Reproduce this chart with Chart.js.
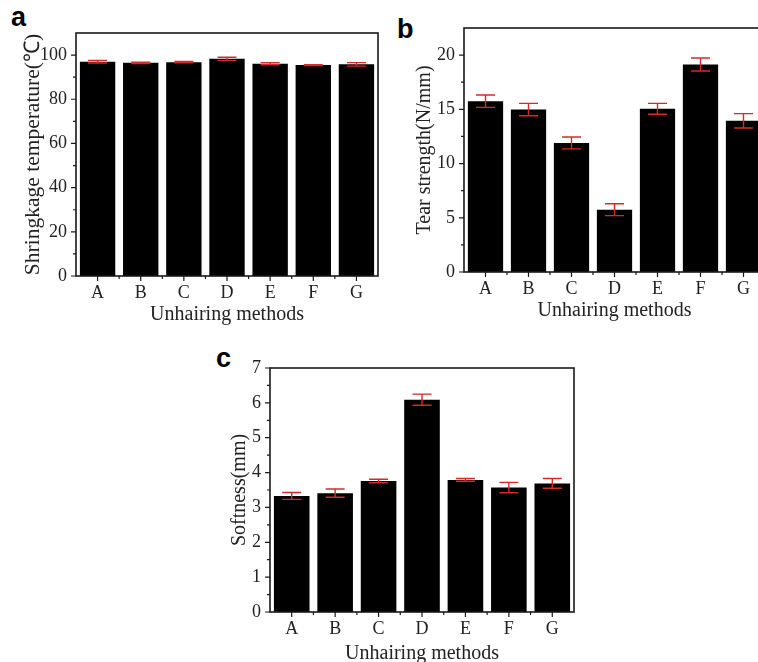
<!DOCTYPE html>
<html>
<head>
<meta charset="utf-8">
<script src="https://cdn.jsdelivr.net/npm/chart.js@4.4.1/dist/chart.umd.min.js"></script>
<style>
  body { margin: 0; width: 758px; height: 662px; overflow: hidden; background: #fff; position: relative; }
  canvas { position: absolute; }
  .tag { position: absolute; font: bold 27px "Liberation Sans", Arial, sans-serif; line-height: 1; color: #000; }
</style>
</head>
<body>
<div class="tag" style="left:11px; top:4px">a</div>
<div class="tag" style="left:397px; top:16px">b</div>
<div class="tag" style="left:216px; top:345px">c</div>
<canvas id="chartA" width="392" height="335" style="left:0; top:0"></canvas>
<canvas id="chartB" width="400" height="335" style="left:380px; top:0"></canvas>
<canvas id="chartC" width="420" height="360" style="left:180px; top:320px"></canvas>
<script>
/* data */
var methods = ['A', 'B', 'C', 'D', 'E', 'F', 'G'];

var shrinkTemp = [97.0, 96.5, 96.8, 98.3, 96.1, 95.5, 95.8];
var shrinkErr = [0.6, 0.3, 0.3, 0.7, 0.5, 0.2, 0.8];

var tearStrength = [15.75, 14.98, 11.9, 5.75, 15.05, 19.14, 13.94];
var tearErr = [0.57, 0.57, 0.55, 0.55, 0.5, 0.6, 0.66];

var softness = [3.33, 3.41, 3.76, 6.09, 3.79, 3.57, 3.69];
var softErr = [0.1, 0.12, 0.05, 0.16, 0.04, 0.15, 0.14];

Chart.defaults.font.family = '"Liberation Serif", "Times New Roman", serif';
Chart.defaults.font.size = 18;
Chart.defaults.color = '#222';

/* error bars, frame and outward ticks */
const decorations = {
  id: 'decorations',
  afterDatasetsDraw(chart, args, opts) {
    const ctx = chart.ctx;
    const area = chart.chartArea;
    const x = chart.scales.x, y = chart.scales.y;
    const vals = chart.data.datasets[0].data;
    ctx.save();

    // error bars
    ctx.strokeStyle = '#d22b2b';
    ctx.lineWidth = 1.4;
    vals.forEach(function (v, i) {
      const px = x.getPixelForValue(i);
      const top = y.getPixelForValue(v + opts.errors[i]);
      const bot = y.getPixelForValue(v - opts.errors[i]);
      ctx.beginPath();
      ctx.moveTo(px, top); ctx.lineTo(px, bot);
      ctx.moveTo(px - 9.5, top); ctx.lineTo(px + 9.5, top);
      ctx.moveTo(px - 9.5, bot); ctx.lineTo(px + 9.5, bot);
      ctx.stroke();
    });

    // frame
    ctx.strokeStyle = '#1a1a1a';
    ctx.lineWidth = 1.6;
    ctx.strokeRect(area.left, area.top, area.right - area.left, area.bottom - area.top);

    // y ticks, major + minor halfway
    ctx.lineWidth = 1.2;
    ctx.beginPath();
    y.ticks.forEach(function (t) {
      const py = y.getPixelForValue(t.value);
      ctx.moveTo(area.left, py); ctx.lineTo(area.left - 5, py);
      const mid = t.value + opts.step / 2;
      if (mid < y.max) {
        const pm = y.getPixelForValue(mid);
        ctx.moveTo(area.left, pm); ctx.lineTo(area.left - 3, pm);
      }
    });
    // x ticks at centers, minor at boundaries
    methods.forEach(function (m, i) {
      const px = x.getPixelForValue(i);
      ctx.moveTo(px, area.bottom); ctx.lineTo(px, area.bottom + 5);
      if (i > 0) {
        const pb = x.getPixelForValue(i - 0.5);
        ctx.moveTo(pb, area.bottom); ctx.lineTo(pb, area.bottom + 3);
      }
    });
    ctx.stroke();
    ctx.restore();
  }
};

function makeChart(id, values, errors, yMax, step, yTitle, box) {
  return new Chart(document.getElementById(id), {
    type: 'bar',
    data: {
      labels: methods,
      datasets: [{
        data: values,
        backgroundColor: '#000',
        borderWidth: 0,
        barPercentage: 0.82,
        categoryPercentage: 1
      }]
    },
    options: {
      responsive: false,
      animation: false,
      layout: { padding: { left: 0, top: box.top, right: box.right, bottom: 0 } },
      plugins: {
        legend: { display: false },
        tooltip: { enabled: false },
        decorations: { errors: errors, step: step }
      },
      scales: {
        x: {
          offset: true,
          grid: { display: false, drawTicks: false },
          border: { display: false },
          ticks: { padding: box.xTickPad, color: '#222' },
          title: { display: true, text: 'Unhairing methods', font: { size: 20 }, color: '#222',
                   padding: { top: 0, bottom: box.xTitlePad } },
          afterFit: function (s) { s.height = box.xHeight; }
        },
        y: {
          min: 0,
          max: yMax,
          grid: { display: false, drawTicks: false },
          border: { display: false },
          ticks: { stepSize: step, padding: 9, color: '#222' },
          afterBuildTicks: function (s) {
            s.ticks = s.ticks.filter(function (t) {
              return Math.abs(t.value / step - Math.round(t.value / step)) < 1e-6;
            });
          },
          title: { display: true, text: yTitle, font: { size: box.yTitleSize }, color: '#222',
                   padding: { top: box.yTitlePad, bottom: 0 } },
          afterFit: function (s) { s.width = box.yWidth; }
        }
      }
    },
    plugins: [decorations]
  });
}

makeChart('chartA', shrinkTemp, shrinkErr, 110, 20, 'Shringkage temperature(\u2103)',
  { top: 33, right: 14, yWidth: 76, xHeight: 59, xTickPad: 6, xTitlePad: 8, yTitlePad: 20, yTitleSize: 21.5 });

makeChart('chartB', tearStrength, tearErr, 22.5, 5, 'Tear strength(N/mm)',
  { top: 28, right: 15, yWidth: 84, xHeight: 63, xTickPad: 6, xTitlePad: 12, yTitlePad: 33, yTitleSize: 20 });

makeChart('chartC', softness, softErr, 7, 1, 'Softness(mm)',
  { top: 48, right: 26, yWidth: 90, xHeight: 68, xTickPad: 6, xTitlePad: 14, yTitlePad: 48, yTitleSize: 20 });
</script>
</body>
</html>
